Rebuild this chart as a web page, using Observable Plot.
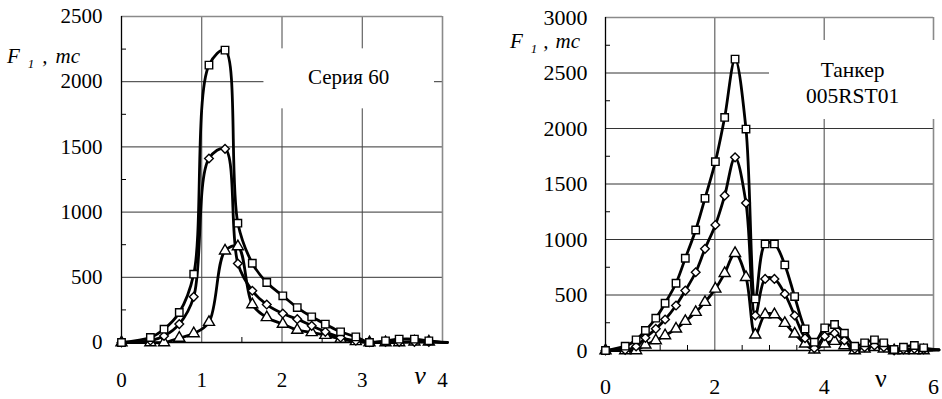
<!DOCTYPE html>
<html><head><meta charset="utf-8">
<script src="https://cdn.jsdelivr.net/npm/d3@7"></script>
<script src="https://cdn.jsdelivr.net/npm/@observablehq/plot@0.6"></script>
<style>
html,body{margin:0;padding:0;background:#fff}
body{width:942px;height:399px;position:relative;overflow:hidden;font-family:"Liberation Serif","Times New Roman",Times,Tinos,"Nimbus Roman","Nimbus Roman No9 L",FreeSerif,"Noto Serif","DejaVu Serif",serif;color:#000}
.panel{position:absolute;top:0}
.ylab{position:absolute;font-size:21px;line-height:1;white-space:nowrap;font-style:italic}
.ylab .sub{font-size:13px;position:relative;top:5px;margin-left:8px}
.ylab .c{margin-left:8px}
.ylab .m{margin-left:8px}
.nu{position:absolute;font-size:26px;line-height:1;width:30px;text-align:center}
</style></head><body>
<div id="left" class="panel" style="left:0px"></div>
<div id="right" class="panel" style="left:470px"></div>
<div class="ylab" style="left:7px;top:46px"><span>F</span><span class="sub">1</span><span class="c">,</span><span class="m">mc</span></div>
<div class="ylab" style="left:510px;top:31px"><span>F</span><span class="sub">1</span><span class="c" style="margin-left:6px">,</span><span class="m" style="margin-left:7px">mc</span></div>
<div class="nu" style="left:405px;top:363px;font-style:italic">ν</div>
<div class="nu" style="left:866px;top:366px">ν</div>
<script>
// ---------- Left chart: Серия 60 ----------
const leftNu       = [0, 0.36, 0.53, 0.72, 0.90, 1.09, 1.29, 1.45, 1.63, 1.81, 2.01, 2.19, 2.37, 2.54, 2.73, 2.92, 3.09, 3.29, 3.46, 3.65, 3.83, 4.06];
const leftSquare   = [0, 38, 102, 230, 524, 2127, 2242, 915, 608, 460, 358, 268, 197, 141, 82, 43, 0, 13, 26, 26, 13, 0];
const leftDiamond  = [0, 15, 50, 141, 350, 1411, 1485, 606, 397, 291, 222, 179, 128, 82, 38, 13, 3, 5, 5, 5, 5, 0];
const leftTriangle = [0, 0, 0, 34, 69, 156, 703, 736, 291, 192, 141, 95, 77, 56, 26, 8, 0, 0, 0, 5, 5, 0];
const leftXTicks = [0, 1, 2, 3, 4];
const leftYTicks = [0, 500, 1000, 1500, 2000, 2500];
const leftXGrid = [1, 2, 3];
const leftYGrid = [500, 1000, 1500, 2000];
const leftXMinor = [0.5, 1.5, 2.5, 3.5];
const leftYMinor = [250, 750, 1250, 1750, 2250];
const leftNote = "Серия 60";

// ---------- Right chart: Танкер 005RST01 ----------
const rightNu       = [0, 0.36, 0.56, 0.73, 0.92, 1.09, 1.29, 1.46, 1.65, 1.82, 2.01, 2.18, 2.37, 2.57, 2.74, 2.92, 3.09, 3.28, 3.46, 3.65, 3.82, 4.01, 4.19, 4.37, 4.56, 4.74, 4.92, 5.09, 5.28, 5.45, 5.65, 5.82, 6.1];
const rightSquare   = [0, 39, 96, 180, 291, 426, 606, 831, 1086, 1371, 1701, 2100, 2625, 1995, 465, 960, 960, 771, 486, 195, 75, 204, 234, 156, 39, 69, 96, 69, 9, 30, 45, 24, 5];
const rightDiamond  = [0, 5, 36, 114, 195, 279, 405, 540, 705, 916, 1131, 1395, 1740, 1329, 315, 645, 645, 510, 315, 111, 21, 129, 156, 90, 15, 30, 45, 30, 0, 9, 15, 9, 5];
const rightTriangle = [0, 0, 0, 51, 90, 135, 195, 264, 345, 435, 555, 696, 876, 660, 141, 324, 324, 246, 150, 60, 6, 60, 84, 45, 0, 15, 30, 15, 0, 0, 0, 0, 5];
const rightXTicks = [0, 2, 4, 6];
const rightYTicks = [0, 500, 1000, 1500, 2000, 2500, 3000];
const rightXGrid = [2, 4];
const rightYGrid = [500, 1000, 1500, 2000, 2500];
const rightXMinor = [0.5, 1, 1.5, 2.5, 3, 3.5, 4.5, 5, 5.5];
const rightYMinor = [250, 750, 1250, 1750, 2250, 2750];
const rightNote = "Танкер\n005RST01";

const serif = '"Liberation Serif","Times New Roman",Times,Tinos,"Nimbus Roman","Nimbus Roman No9 L",FreeSerif,"Noto Serif","DejaVu Serif",serif';

function makeChart(o) {
  const rows = [];
  o.nu.forEach((v, i) => {
    rows.push({nu: v, F: o.sq[i], s: "sq"});
    rows.push({nu: v, F: o.di[i], s: "di"});
    rows.push({nu: v, F: o.tr[i], s: "tr"});
  });
  const inside = rows.filter(d => d.nu <= o.xMax);
  const dotStyle = {x: "nu", y: "F", fill: "white", stroke: "black", strokeWidth: 1.4};
  const fmt = d => String(d);
  return Plot.plot({
    width: o.width, height: 399,
    marginLeft: o.ml, marginRight: o.mr, marginTop: o.mt, marginBottom: o.mb,
    style: {fontFamily: serif, fontSize: o.fs + "px", background: "white", overflow: "visible", color: "black"},
    x: {domain: [0, o.xMax]},
    y: {domain: [0, o.yMax]},
    marks: [
      Plot.gridY(o.yGrid, {stroke: "#333", strokeOpacity: 1, strokeWidth: 1}),
      Plot.gridX(o.xGrid, {stroke: "#444", strokeOpacity: 1, strokeWidth: 1}),
      Plot.ruleY([o.yMax], {stroke: "#8a8a8a", strokeWidth: 1.6}),
      Plot.ruleX([o.xMax], {stroke: "#8a8a8a", strokeWidth: 1.6}),
      Plot.rect([o.box], {x1: "x1", x2: "x2", y1: "y1", y2: "y2", fill: "white"}),
      Plot.ruleX([0], {stroke: "black", strokeWidth: 1.3}),
      Plot.axisY({ticks: o.yMinor, tickSize: -5, tickFormat: () => "", label: null, stroke: "black"}),
      Plot.axisX({ticks: o.xMinor, tickSize: -5, tickFormat: () => "", label: null, stroke: "black"}),
      Plot.axisY({ticks: o.yTicks, tickSize: 0, tickPadding: o.yPad, tickFormat: fmt, label: null, fontSize: o.fs, fontFamily: serif}),
      Plot.axisX({ticks: o.xTicks, tickSize: 0, tickPadding: o.xPad, tickFormat: fmt, label: null, fontSize: o.fs, fontFamily: serif}),
      Plot.text([o.note], {x: o.noteX, y: o.noteY, text: d => d, fontSize: o.noteFs, fontFamily: serif, lineHeight: o.noteLH, textAnchor: "middle", lineAnchor: "middle", fill: "black"}),
      Plot.ruleY([0], {stroke: "black", strokeWidth: 1.3}),
      Plot.line(rows, {x: "nu", y: "F", z: "s", curve: "catmull-rom", stroke: "black", strokeWidth: 2.8}),
      Plot.dot(inside.filter(d => d.s === "tr"), {...dotStyle, symbol: "triangle", r: 4.1}),
      Plot.dot(inside.filter(d => d.s === "di"), {...dotStyle, symbol: "diamond2", r: 3.9}),
      Plot.dot(inside.filter(d => d.s === "sq"), {...dotStyle, symbol: "square", r: 4.2})
    ]
  });
}

document.getElementById("left").appendChild(makeChart({
  nu: leftNu, sq: leftSquare, di: leftDiamond, tr: leftTriangle,
  xMax: 4, yMax: 2500, xTicks: leftXTicks, yTicks: leftYTicks,
  xGrid: leftXGrid, yGrid: leftYGrid, xMinor: leftXMinor, yMinor: leftYMinor,
  width: 470, ml: 121, mr: 28, mt: 16, mb: 57, fs: 21, yPad: 19, xPad: 30,
  note: leftNote, noteX: 2.83, noteY: 2040, noteFs: 21, noteLH: 1.1,
  box: {x1: 1.775, x2: 3.9, y1: 1792, y2: 2252}
}));

document.getElementById("right").appendChild(makeChart({
  nu: rightNu, sq: rightSquare, di: rightDiamond, tr: rightTriangle,
  xMax: 6, yMax: 3000, xTicks: rightXTicks, yTicks: rightYTicks,
  xGrid: rightXGrid, yGrid: rightYGrid, xMinor: rightXMinor, yMinor: rightYMinor,
  width: 472, ml: 135, mr: 9, mt: 17, mb: 49, fs: 22, yPad: 18, xPad: 28,
  note: rightNote, noteX: 4.52, noteY: 2425, noteFs: 21.5, noteLH: 1.24,
  box: {x1: 3.0, x2: 6.3, y1: 2081, y2: 2793}
}));
</script>
</body></html>
